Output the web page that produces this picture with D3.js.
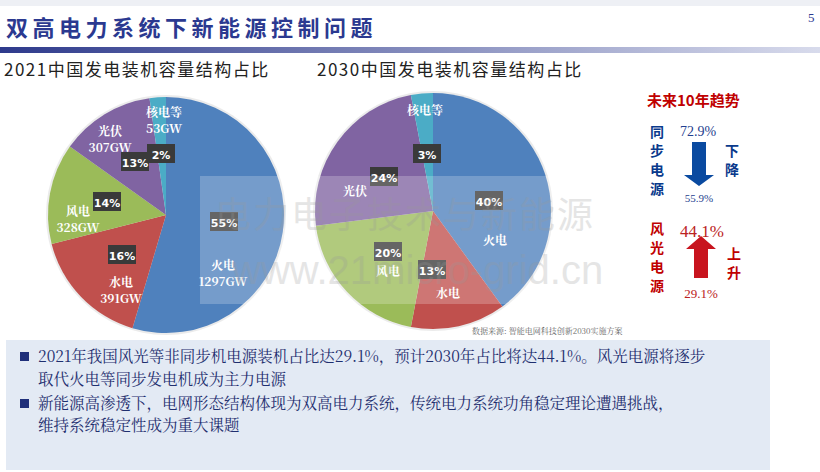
<!DOCTYPE html>
<html><head><meta charset="utf-8">
<script src="https://cdn.jsdelivr.net/npm/d3@7"></script>
<style>body{margin:0;background:#fff}svg{display:block}</style>
</head><body>
<svg id="c" width="820" height="472"></svg>
<script>
const categories = ["火电", "水电", "风电", "光伏", "核电等"];
const colors = ["#4f81bd", "#c0504d", "#9bbb59", "#8064a2", "#4bacc6"];
const gw2021 = [1297, 391, 328, 307, 53];
const pct2021 = ["55%", "16%", "14%", "13%", "2%"];
const pct2030 = [40, 13, 20, 24, 3];
const trendSync = ["72.9%", "55.9%"];
const trendNew = ["29.1%", "44.1%"];

const svg = d3.select("#c");
const serif = "'Noto Serif CJK SC','Noto Sans CJK SC',serif";
const cjk = "'Noto Sans CJK SC',sans-serif";

// header
const grad = svg.append("defs").append("linearGradient").attr("id", "hg");
grad.append("stop").attr("offset", "0").attr("stop-color", "#2e3a8c");
grad.append("stop").attr("offset", "1").attr("stop-color", "#d8dbec");
svg.append("rect").attr("x", 0).attr("y", 0).attr("width", 820).attr("height", 6).attr("fill", "#eef0f5");
svg.append("text").attr("x", 6).attr("y", 36).attr("font-family", cjk).attr("font-weight", "bold")
  .attr("font-size", 22).attr("letter-spacing", 4.5).attr("fill", "#2b3990").text("双高电力系统下新能源控制问题");
svg.append("rect").attr("x", 0).attr("y", 47).attr("width", 820).attr("height", 6).attr("fill", "url(#hg)");
svg.append("text").attr("x", 808).attr("y", 22).attr("font-size", 13).attr("font-family", "Liberation Serif").attr("fill", "#2b3990").text("5");

svg.append("text").attr("x", 4).attr("y", 76).attr("font-family", cjk).attr("font-size", 17).attr("letter-spacing", 1.5).attr("fill", "#222").text("2021中国发电装机容量结构占比");
svg.append("text").attr("x", 317).attr("y", 76).attr("font-family", cjk).attr("font-size", 17).attr("letter-spacing", 1.5).attr("fill", "#222").text("2030中国发电装机容量结构占比");

const pie = d3.pie().sort(null).value(d => d);
const arc = d3.arc().innerRadius(0).outerRadius(118);

function drawPie(cx, cy, vals, labelPos, pctPos, labels, pcts) {
  const g = svg.append("g").attr("transform", `translate(${cx},${cy})`);
  g.append("circle").attr("r", 120).attr("fill", "#ddd").attr("opacity", 0.6);
  g.selectAll("path").data(pie(vals)).join("path").attr("d", arc).attr("fill", (d, i) => colors[i]);
  labels.forEach((l, i) => {
    const t = g.append("text").attr("text-anchor", "middle").attr("fill", "#fff")
      .attr("font-family", serif).attr("font-weight", "bold").attr("font-size", 12);
    l.forEach((s, j) => t.append("tspan").attr("x", labelPos[i][0]).attr("y", labelPos[i][1] + j * 16).text(s));
  });
  pcts.forEach((p, i) => {
    const [x, y] = pctPos[i];
    g.append("rect").attr("x", x - 14).attr("y", y - 10).attr("width", 28).attr("height", 19).attr("fill", "#3a3a3a");
    g.append("text").attr("x", x).attr("y", y + 5).attr("text-anchor", "middle").attr("fill", "#fff")
      .attr("font-family", "DejaVu Sans").attr("font-weight", "bold").attr("font-size", 11).text(p);
  });
}

drawPie(166, 215, gw2021,
  [[57, 55], [-45, 72], [-88, 1], [-56, -79], [-2, -98]],
  [[58, 7], [-44, 40], [-59, -13], [-31, -53], [-5, -61]],
  categories.map((c, i) => [c, gw2021[i] + "GW"]), pct2021);

drawPie(433, 211, pct2030,
  [[62, 34], [15, 87], [-45, 65], [-78, -15], [-8, -96]],
  [[56, -10], [-1, 59], [-45, 41], [-49, -34], [-6, -57]],
  categories.map(c => [c]), pct2030.map(p => p + "%"));

// watermark overlay
svg.append("rect").attr("x", 200).attr("y", 176).attr("width", 460).attr("height", 128).attr("fill", "#fff").attr("opacity", 0.22);
svg.append("text").attr("x", 215).attr("y", 228).attr("font-family", cjk).attr("font-size", 36).attr("fill", "#999").attr("opacity", 0.25).attr("letter-spacing", 2).text("电力电子技术与新能源");
svg.append("text").attr("x", 232).attr("y", 284).attr("font-family", "Liberation Sans").attr("font-size", 40).attr("fill", "#999").attr("opacity", 0.25).text("www.21micro-grid.cn");
svg.append("text").attr("x", 472).attr("y", 334).attr("font-family", serif).attr("font-size", 8).attr("fill", "#666").text("数据来源: 智能电网科技创新2030实施方案");

// trends
const red = "#c00000", blue = "#1f3f8f";
svg.append("text").attr("x", 647).attr("y", 106).attr("font-family", cjk).attr("font-weight", "bold").attr("font-size", 15).attr("fill", red).text("未来10年趋势");
["同", "步", "电", "源"].forEach((s, i) => svg.append("text").attr("x", 650).attr("y", 137 + i * 19).attr("font-family", cjk).attr("font-weight", "bold").attr("font-size", 14).attr("fill", "#0a3a8c").text(s));
["下", "降"].forEach((s, i) => svg.append("text").attr("x", 725).attr("y", 156 + i * 19).attr("font-family", cjk).attr("font-weight", "bold").attr("font-size", 14).attr("fill", "#0a3a8c").text(s));
["风", "光", "电", "源"].forEach((s, i) => svg.append("text").attr("x", 650).attr("y", 234 + i * 19).attr("font-family", cjk).attr("font-weight", "bold").attr("font-size", 14).attr("fill", red).text(s));
["上", "升"].forEach((s, i) => svg.append("text").attr("x", 727).attr("y", 259 + i * 19).attr("font-family", cjk).attr("font-weight", "bold").attr("font-size", 14).attr("fill", red).text(s));
svg.append("text").attr("x", 698).attr("y", 136).attr("text-anchor", "middle").attr("font-family", "Liberation Serif").attr("font-size", 14).attr("fill", blue).text(trendSync[0]);
svg.append("text").attr("x", 699).attr("y", 202).attr("text-anchor", "middle").attr("font-family", "Liberation Serif").attr("font-size", 11).attr("fill", blue).text(trendSync[1]);
svg.append("text").attr("x", 702).attr("y", 237).attr("text-anchor", "middle").attr("font-family", "Liberation Serif").attr("font-size", 17).attr("fill", "#b22").text(trendNew[1]);
svg.append("text").attr("x", 701).attr("y", 298).attr("text-anchor", "middle").attr("font-family", "Liberation Serif").attr("font-size", 13).attr("fill", "#b22").text(trendNew[0]);
svg.append("path").attr("d", "M692,142 H706 V175 H714 L699,186 L684,175 H692 Z").attr("fill", "#0a4aa0");
svg.append("path").attr("d", "M694,278 H708 V249 H716 L701,236 L686,249 H694 Z").attr("fill", "#c8141e");

// bottom box
svg.append("rect").attr("x", 6).attr("y", 340).attr("width", 764).attr("height", 130).attr("fill", "#e3eaf4");
const lines = [
  [[20, 362, true], "2021年我国风光等非同步机电源装机占比达29.1%，预计2030年占比将达44.1%。风光电源将逐步"],
  [[38, 385, false], "取代火电等同步发电机成为主力电源"],
  [[20, 409, true], "新能源高渗透下，电网形态结构体现为双高电力系统，传统电力系统功角稳定理论遭遇挑战，"],
  [[38, 431, false], "维持系统稳定性成为重大课题"]];
lines.forEach(([[x, y, b], t]) => {
  if (b) svg.append("rect").attr("x", 20).attr("y", y - 10).attr("width", 9).attr("height", 9).attr("fill", "#1f2f7a");
  svg.append("text").attr("x", 38).attr("y", y).attr("font-family", serif).attr("font-size", 15.5).attr("fill", "#1f2f6f").text(t);
});
</script>
</body></html>
